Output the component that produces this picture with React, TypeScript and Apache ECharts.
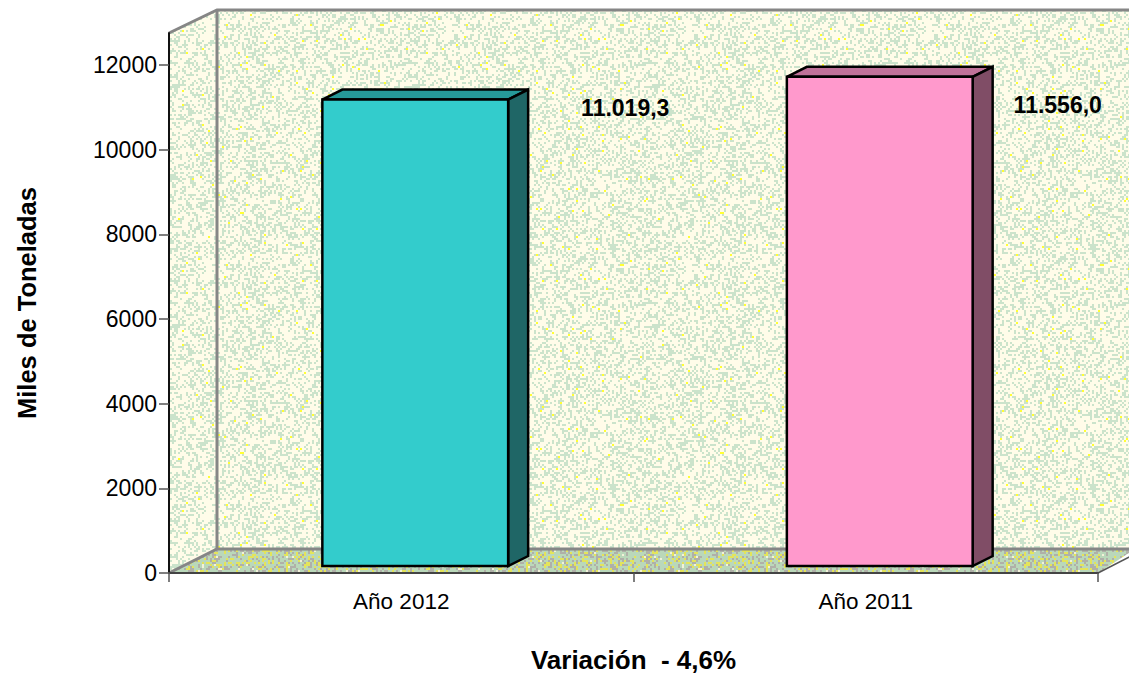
import React, { useEffect, useRef } from "react";
import * as echarts from "echarts";

const categories = ["Año 2012", "Año 2011"];
const values = [11019.3, 11556.0];
const valueLabels = ["11.019,3", "11.556,0"];
const yTicks = [0, 2000, 4000, 6000, 8000, 10000, 12000];
const yMax = 12756;
const yName = "Miles de Toneladas";
const xName = "Variación  - 4,6%";

const faces = [
  { front: "#33CCCC", top: "#269999", side: "#1F6666" },
  { front: "#FF99CC", top: "#BF7299", side: "#804D66" },
];
const labelOffsets = [
  [224, 1.5],
  [192, 21],
];
const FONT = '"Liberation Sans", Arial, sans-serif';
const WALL_DX = 48;
const WALL_DY = -24;

function hash(x: number, y: number, s: number) {
  let h = (x * 374761393 + y * 668265263 + s * 2147483647) | 0;
  h = Math.imul(h ^ (h >>> 13), 1274126177);
  h = h ^ (h >>> 16);
  return ((h >>> 0) % 10000) / 10000;
}

function makeTile(base: string, spots: [string, number, number][], seed: number) {
  const size = 240;
  const c = document.createElement("canvas");
  c.width = size;
  c.height = size;
  const g = c.getContext("2d")!;
  g.fillStyle = base;
  g.fillRect(0, 0, size, size);
  for (let y = 0; y < size; y += 2) {
    for (let x = 0; x < size; x += 2) {
      const r = hash(x + 1, y + 1, seed);
      let acc = 0;
      for (const [color, p, s] of spots) {
        acc += p;
        if (r < acc) {
          g.fillStyle = color;
          g.fillRect(x, y, s, s);
          break;
        }
      }
    }
  }
  return { image: c.toDataURL(), repeat: "repeat", imageWidth: size, imageHeight: size };
}

export default function App() {
  const ref = useRef<HTMLDivElement>(null);
  useEffect(() => {
    document.body.style.margin = "0";
    const chart = echarts.init(ref.current!, null, { renderer: "svg" });
    const wallFill = makeTile("#FFFCE9", [["#FFFF33", 0.01, 2], ["#CBE3CB", 0.36, 2]], 7);
    const floorFill = makeTile(
      "#BAD8BA",
      [["#E4E45A", 0.18, 2], ["#B0B0A8", 0.24, 2], ["#F2F2D8", 0.03, 2]],
      11
    );

    const renderWalls = (params: any, api: any) => {
      const cs = params.coordSys;
      const x0 = cs.x;
      const yBottom = cs.y + cs.height;
      const yTop = cs.y;
      const xEnd = x0 + cs.width;
      const bx = x0 + WALL_DX;
      const by = yBottom + WALL_DY;
      const ty = yTop + WALL_DY + 1;
      const farX = 1135;
      const gray = { stroke: "#868686", lineWidth: 3, fill: "none" };
      return {
        type: "group",
        children: [
          { type: "polygon", shape: { points: [[bx, ty], [farX, ty], [farX, by], [bx, by]] }, style: { fill: wallFill } },
          { type: "polygon", shape: { points: [[x0, yTop], [bx, ty], [bx, by], [x0, yBottom]] }, style: { fill: wallFill } },
          { type: "polygon", shape: { points: [[x0, yBottom], [bx, by], [farX, by], [xEnd + 37, by], [xEnd, yBottom]] }, style: { fill: floorFill } },
          { type: "polyline", shape: { points: [[x0, yTop], [bx, ty], [farX, ty]] }, style: gray },
          { type: "line", shape: { x1: bx, y1: ty, x2: bx, y2: by }, style: gray },
          { type: "polyline", shape: { points: [[x0, yBottom], [bx, by], [farX, by]] }, style: gray },
          { type: "line", shape: { x1: xEnd, y1: yBottom, x2: xEnd + 37, y2: yBottom - 19 }, style: { stroke: "#555", lineWidth: 1.5 } },
        ],
      };
    };

    const renderBar = (params: any, api: any) => {
      const i = params.dataIndex;
      const top = api.coord([api.value(0), api.value(1)]);
      const base = api.coord([api.value(0), 0]);
      const w = api.size([1, 0])[0] * 0.4;
      const dx = 14;
      const dy = -7;
      const l = top[0] - w / 2 + dx;
      const r = l + w;
      const t = top[1] + dy;
      const b = base[1] + dy;
      const ox = 20;
      const oy = -10;
      const f = faces[i];
      const line = { stroke: "#000", lineWidth: 2.5, lineJoin: "miter" };
      return {
        type: "group",
        children: [
          { type: "polygon", shape: { points: [[l, t], [l + ox, t + oy], [r + ox, t + oy], [r, t]] }, style: { fill: f.top, ...line } },
          { type: "polygon", shape: { points: [[r, t], [r + ox, t + oy], [r + ox, b + oy], [r, b]] }, style: { fill: f.side, ...line } },
          { type: "rect", shape: { x: l, y: t, width: w, height: b - t }, style: { fill: f.front, ...line } },
          {
            type: "text",
            style: {
              x: top[0] + labelOffsets[i][0],
              y: top[1] + labelOffsets[i][1],
              text: valueLabels[i],
              fill: "#000",
              font: `bold 23px ${FONT}`,
              align: "center",
              verticalAlign: "middle",
            },
          },
        ],
      };
    };

    chart.setOption({
      animation: false,
      backgroundColor: "#fff",
      textStyle: { fontFamily: FONT },
      grid: { left: 169, right: 31, top: 33, height: 540, containLabel: false, outerBoundsMode: "none" },
      xAxis: {
        type: "category",
        data: categories,
        z: 3,
        name: xName,
        nameLocation: "middle",
        nameGap: 74,
        nameTextStyle: { fontFamily: FONT, fontWeight: "bold", fontSize: 26, color: "#000" },
        axisLine: { lineStyle: { color: "#444", width: 2 } },
        axisTick: { show: true, length: 9, lineStyle: { color: "#555", width: 1.5 }, alignWithLabel: false },
        axisLabel: { fontFamily: FONT, fontSize: 22.5, color: "#000", margin: 17 },
        splitLine: { show: false },
      },
      yAxis: {
        type: "value",
        min: 0,
        max: yMax,
        z: 3,
        name: yName,
        nameLocation: "middle",
        nameGap: 129,
        nameTextStyle: { fontFamily: FONT, fontWeight: "bold", fontSize: 25.5, color: "#000" },
        axisLine: { show: true, lineStyle: { color: "#111", width: 2 } },
        axisTick: { show: true, length: 10, customValues: yTicks, lineStyle: { color: "#555", width: 1.5 } },
        axisLabel: {
          fontFamily: FONT,
          fontSize: 23,
          color: "#000",
          margin: 12,
          customValues: yTicks,
          formatter: (v: number) => String(v),
        },
        splitLine: { show: false },
      },
      series: [
        { type: "custom", z: 1, silent: true, clip: false, renderItem: renderWalls, data: [[0, 0]], encode: { x: 0, y: 1 } },
        {
          type: "custom",
          z: 4,
          clip: false,
          renderItem: renderBar,
          data: values.map((v, i) => [i, v]),
          encode: { x: 0, y: 1 },
        },
      ],
    });
    return () => chart.dispose();
  }, []);
  return <div ref={ref} style={{ width: 1129, height: 677 }} />;
}
